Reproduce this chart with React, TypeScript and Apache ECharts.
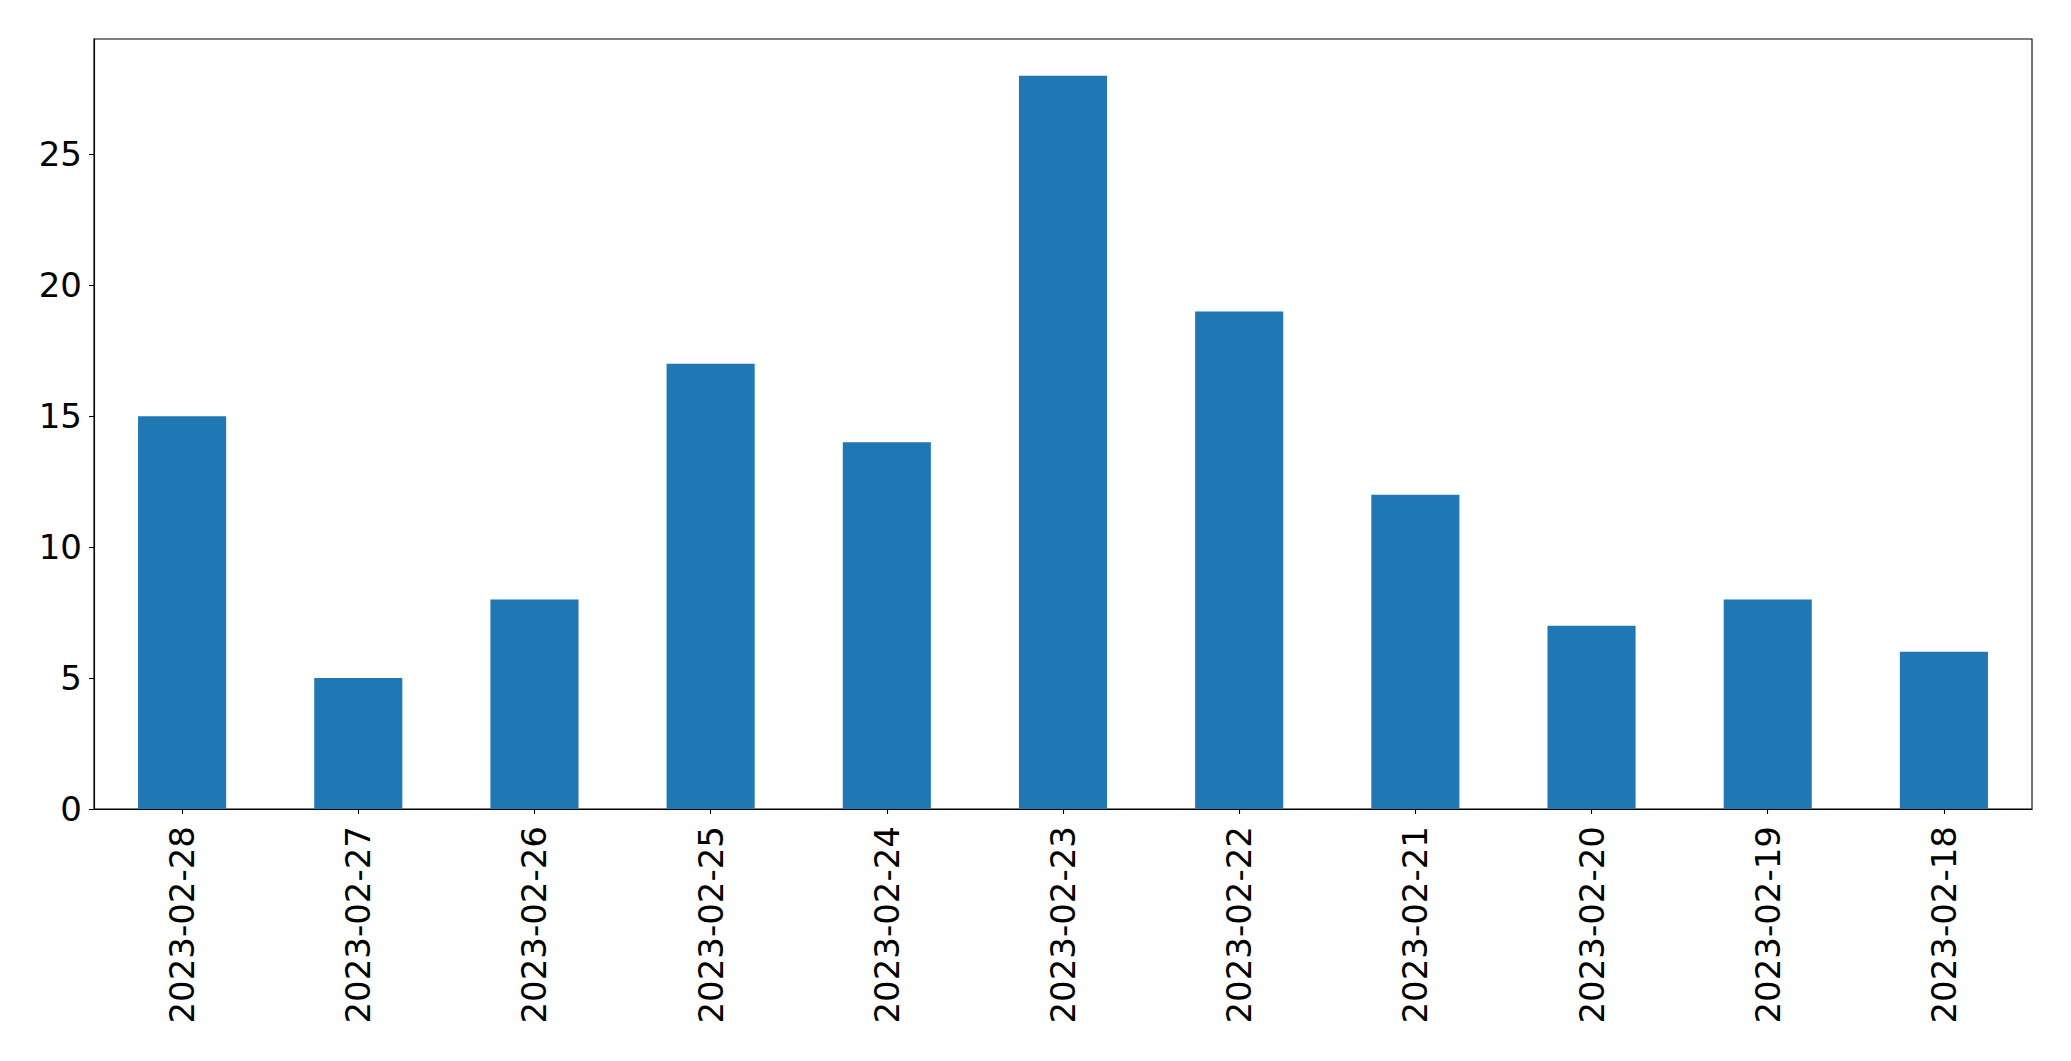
import React, { useEffect, useRef } from "react";
import * as echarts from "echarts";

const categories = [
  "2023-02-28",
  "2023-02-27",
  "2023-02-26",
  "2023-02-25",
  "2023-02-24",
  "2023-02-23",
  "2023-02-22",
  "2023-02-21",
  "2023-02-20",
  "2023-02-19",
  "2023-02-18",
];
const values = [15, 5, 8, 17, 14, 28, 19, 12, 7, 8, 6];
const yTicks = [0, 5, 10, 15, 20, 25];

export default function App() {
  const ref = useRef<HTMLDivElement>(null);
  useEffect(() => {
    if (!ref.current) return;
    const chart = echarts.init(ref.current, null, { renderer: "svg" });
    const font = "DejaVu Sans";
    chart.setOption({
      animation: false,
      backgroundColor: "#ffffff",
      grid: {
        left: 94,
        top: 39,
        right: 39,
        bottom: 252,
        show: true,
        borderColor: "#000000",
        borderWidth: 1.1,
        containLabel: false,
      },
      xAxis: {
        type: "category",
        data: categories,
        boundaryGap: true,
        axisLine: { show: true, lineStyle: { color: "#000000", width: 1.1 } },
        axisTick: { show: true, alignWithLabel: true, length: 5, lineStyle: { color: "#000000", width: 1.1 } },
        axisLabel: {
          rotate: 90,
          margin: 17,
          color: "#000000",
          fontFamily: font,
          fontSize: 34,
          interval: 0,
        },
        splitLine: { show: false },
      },
      yAxis: {
        type: "value",
        min: 0,
        max: 29.4,
        interval: 5,
        axisLine: { show: true, lineStyle: { color: "#000000", width: 1.1 } },
        axisTick: { show: true, length: 5, customValues: yTicks, lineStyle: { color: "#000000", width: 1.1 } },
        axisLabel: {
          customValues: yTicks,
          margin: 12,
          color: "#000000",
          fontFamily: font,
          fontSize: 34,
        },
        splitLine: { show: false },
      },
      series: [
        {
          type: "bar",
          data: values,
          barWidth: "50%",
          itemStyle: { color: "#1f77b4" },
        },
      ],
    });
    return () => chart.dispose();
  }, []);
  return (
    <div
      ref={ref}
      style={{ position: "fixed", left: 0, top: 0, width: 2071, height: 1061 }}
    />
  );
}
